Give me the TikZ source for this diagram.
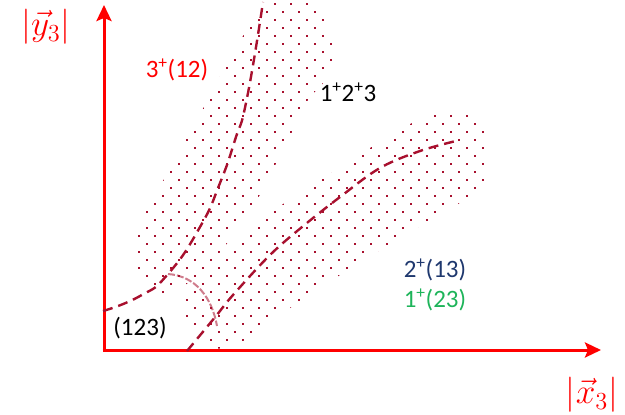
\documentclass[tikz,border=0pt]{standalone}
\usepackage{graphicx}
\usepackage{fontspec}
\setmainfont{Carlito}
\usetikzlibrary{arrows.meta}
\definecolor{axisred}{RGB}{255,0,0}
\definecolor{dotc}{RGB}{168,16,46}
\definecolor{navyc}{RGB}{31,56,110}
\definecolor{grnc}{RGB}{30,180,90}
\newcommand{\biglab}[1]{\scalebox{1.7}{\fontsize{20.74}{24}\selectfont #1}}
\begin{document}
\begin{tikzpicture}[x=1pt,y=-1pt,
  lab/.style={font=\fontsize{25}{28}\selectfont, inner sep=0pt},
  mlab/.style={inner sep=0pt, text=axisred},
  ax/.style={axisred, line width=3pt, -{Stealth[length=16pt,width=15pt,inset=3pt]}},
  dashc/.style={dotc, line width=2.4pt, dash pattern=on 10pt off 6pt},
  arcc/.style={dotc, opacity=0.55, line width=2pt, dash pattern=on 7pt off 2pt},
  dotfill/.style={fill=dotc}]
\useasboundingbox (0,0) rectangle (625,415);

% upper dotted region
\begin{scope}
\clip plot[smooth cycle, tension=0.7] coordinates {(285,-2) (312,4) (330,30) (334,55) (325,80) (308,100) (294,128) (282,152) (270,175) (258,198) (240,225) (215,258) (185,285) (160,296) (142,285) (134,255) (140,222) (158,190) (180,150) (205,105) (232,55) (258,15)};
\foreach \j in {0,...,37} {
  \pgfmathsetmacro\yy{4+8*\j}
  \pgfmathsetmacro\off{3+mod(\j,2)*8}
  \foreach \i in {8,...,21} {
    \fill[dotfill] ({\off+16*\i-1},{\yy-1}) rectangle ++(2,2);
  }
}
\end{scope}

% lower dotted region
\begin{scope}
\clip plot[smooth cycle, tension=0.7] coordinates {(448,110) (474,119) (489,145) (484,182) (455,206) (420,226) (385,247) (340,275) (290,308) (255,333) (228,348) (205,343) (186,322) (182,298) (205,268) (240,238) (272,212) (300,193) (330,174) (370,148) (410,124)};
\foreach \j in {13,...,43} {
  \pgfmathsetmacro\yy{4+8*\j}
  \pgfmathsetmacro\off{3+mod(\j,2)*8}
  \foreach \i in {10,...,30} {
    \fill[dotfill] ({\off+16*\i-1},{\yy-1}) rectangle ++(2,2);
  }
}
\end{scope}

% axes
\coordinate (O) at (104,350);
\coordinate (ytip) at (104,5);
\coordinate (xtip) at (601,350);
\draw[ax] (O) -- (ytip);
\draw[ax] ([xshift=-1.5pt]O) -- (xtip);

% dashed curves
\coordinate (a0) at (103,311);
\coordinate (a1) at (168,274);
\coordinate (b0) at (187,351);
\coordinate (b1) at (216,316);
\draw[dashc] plot[smooth, tension=0.9] coordinates {(a0) (140,296) (a1) (200,227) (220,183) (235,140) (247,98) (263,2)};
\draw[dashc] plot[smooth, tension=0.6] coordinates {(b0) (b1) (233,295) (270,255) (302,227) (340,197) (380,168) (420,151) (456,141)};
\draw[arcc] (a1) .. controls (196,276) and (212,298) .. (217,326);

% labels
\node[mlab] (ylab) at (46,27) {\biglab{$|\vec{y}_3|$}};
\node[mlab] (xlab) at (592,395) {\biglab{$|\vec{x}_3|$}};
\node[lab, text=axisred] (l312) at (177,70) {3\textsuperscript{+}(12)};
\node[lab, text=black] (l123a) at (348,92) {1\textsuperscript{+}2\textsuperscript{+}3};
\node[lab, text=navyc] (l213) at (435,270) {2\textsuperscript{+}(13)};
\node[lab, text=grnc] (l123b) at (435,300) {1\textsuperscript{+}(23)};
\node[lab, text=black] (l123) at (140,328) {(123)};
\end{tikzpicture}
\end{document}
